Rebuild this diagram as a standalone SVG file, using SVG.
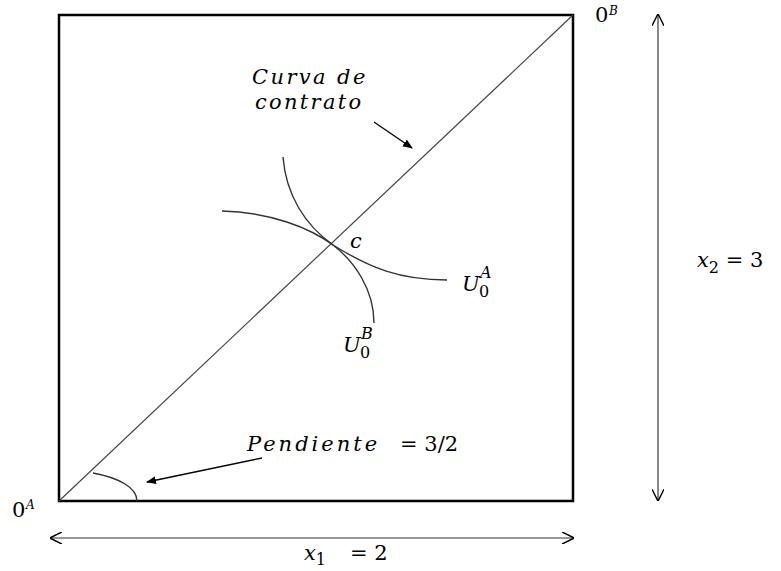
<svg xmlns="http://www.w3.org/2000/svg" width="781" height="571" viewBox="0 0 781 571">
<defs>
<style>
.t{font-family:"DejaVu Serif","Liberation Serif",serif;font-size:21px;fill:#000}
.i{font-style:italic}
.s{font-size:16px}
.xs{font-size:12px}
.thin{stroke:#444;stroke-width:1.2;fill:none}
.curve{stroke:#333;stroke-width:1.4;fill:none}
</style>
<marker id="fill" viewBox="0 0 10 10" refX="9" refY="5" markerWidth="10" markerHeight="10" markerUnits="userSpaceOnUse" orient="auto"><path d="M0,1 L10,5 L0,9 z" fill="#000"/></marker>
<marker id="open" viewBox="0 0 10 10" refX="9" refY="5" markerWidth="12" markerHeight="12" markerUnits="userSpaceOnUse" orient="auto-start-reverse"><path d="M0,0 L10,5 L0,10" fill="none" stroke="#000" stroke-width="1.2"/></marker>
</defs>
<rect width="781" height="571" fill="#fff"/>
<g id="box"><rect x="59" y="15" width="514" height="486" fill="none" stroke="#000" stroke-width="2.5"/></g>
<g id="connectors">
<line class="thin" x1="59" y1="501" x2="573" y2="15"/>
<line x1="374" y1="122" x2="412" y2="148" stroke="#000" stroke-width="1.3" marker-end="url(#fill)"/>
<line x1="262" y1="458" x2="147" y2="482" stroke="#000" stroke-width="1.3" marker-end="url(#fill)"/>
<path class="curve" d="M93,473 C120,478 137,488 137,501"/>
<line x1="658" y1="15" x2="658" y2="500" stroke="#555" stroke-width="1.4" marker-start="url(#open)" marker-end="url(#open)"/>
<line x1="51" y1="538" x2="573" y2="538" stroke="#333" stroke-width="1.2" marker-start="url(#open)" marker-end="url(#open)"/>
<path class="curve" d="M222,211 C270,212 310,228 333,245 C370,268 400,280 447,280"/>
<path class="curve" d="M283,157 C286,195 305,225 333,245 C355,262 374,290 374,323"/>
</g>
<g id="labels">
<text class="t i" x="252" y="84" letter-spacing="2.4">Curva de</text>
<text class="t i" x="255" y="109" letter-spacing="2.3">contrato</text>
<text class="t i" x="350" y="248">c</text>
<text class="t i" x="462" y="291">U</text><text class="t s" x="479" y="297">0</text><text class="t i s" x="480" y="278">A</text>
<text class="t i" x="343" y="352">U</text><text class="t s" x="360" y="358">0</text><text class="t i s" x="361" y="339">B</text>
<text class="t" x="247" y="451"><tspan class="i" letter-spacing="3">Pendiente</tspan><tspan x="400">= 3/2</tspan></text>
<text class="t" x="12" y="517">0</text><text class="t i xs" x="26" y="509">A</text>
<text class="t" x="595" y="22">0</text><text class="t i xs" x="609" y="15">B</text>
<text class="t" x="697" y="267"><tspan class="i">x</tspan><tspan class="s" dy="6">2</tspan><tspan dy="-6"> = 3</tspan></text>
<text class="t" x="304" y="560"><tspan class="i">x</tspan><tspan class="s" dy="5">1</tspan><tspan x="350" dy="-5">= 2</tspan></text>
</g>
</svg>
